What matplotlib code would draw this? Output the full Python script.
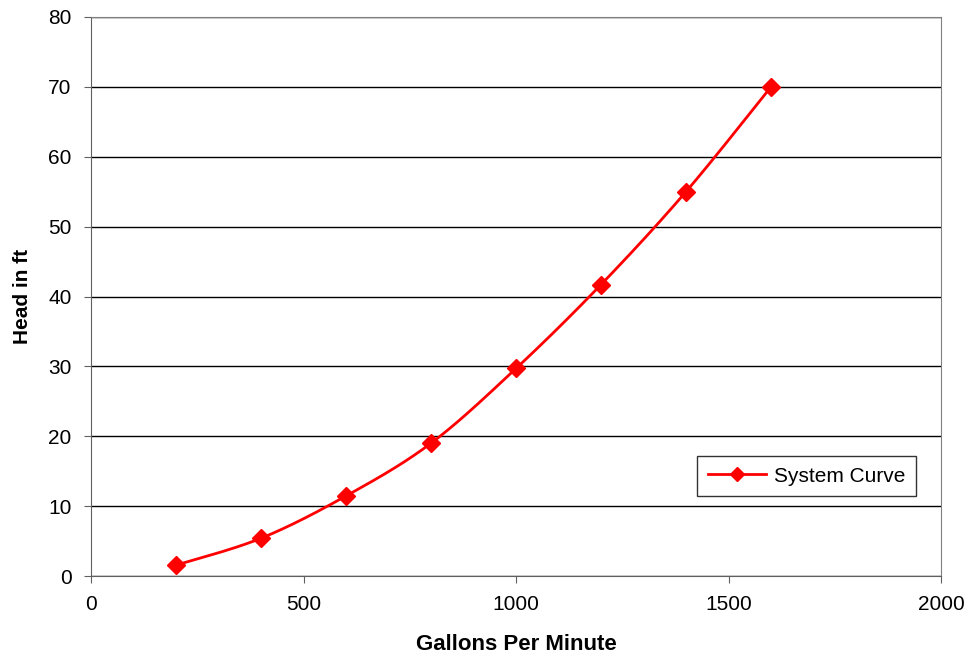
import numpy as np
import matplotlib
matplotlib.use("Agg")
import matplotlib.pyplot as plt
from matplotlib.lines import Line2D

gpm = [200, 400, 600, 800, 1000, 1200, 1400, 1600]
head = [1.55, 5.4, 11.45, 19.0, 29.7, 41.7, 55.0, 70.0]
series_name = "System Curve"
x_label = "Gallons Per Minute"
y_label = "Head in ft"

plt.rcParams['font.family'] = ['Liberation Sans', 'DejaVu Sans']

def smooth(xs, ys, n=30):
    # Excel-like smoothed line: cubic Bezier with control points from neighbours
    xs = np.asarray(xs, float); ys = np.asarray(ys, float)
    px = np.concatenate([[xs[0]], xs, [xs[-1]]])
    py = np.concatenate([[ys[0]], ys, [ys[-1]]])
    ox, oy = [], []
    t = np.linspace(0, 1, n)
    for i in range(1, len(px) - 2):
        p0 = np.array([px[i], py[i]]); p3 = np.array([px[i+1], py[i+1]])
        p1 = p0 + (np.array([px[i+1], py[i+1]]) - np.array([px[i-1], py[i-1]])) / 6
        p2 = p3 - (np.array([px[i+2], py[i+2]]) - np.array([px[i], py[i]])) / 6
        b = ((1-t)**3)[:, None]*p0 + (3*(1-t)**2*t)[:, None]*p1 + (3*(1-t)*t**2)[:, None]*p2 + (t**3)[:, None]*p3
        ox.extend(b[:, 0]); oy.extend(b[:, 1])
    return ox, oy

fig = plt.figure(figsize=(9.68, 6.58), dpi=100)
ax = fig.add_axes([91/968, 1 - 576/658, (941-91)/968, (576-17)/658])

sx, sy = smooth(gpm, head)
ax.plot(sx, sy, color='#FF0000', lw=2, zorder=3)
ax.plot(gpm, head, linestyle='none', marker='D', color='#FF0000', markersize=9, zorder=4)

ax.set_xlim(0, 2000)
ax.set_ylim(0, 80)
ax.set_xticks(range(0, 2001, 500))
ax.set_yticks(range(0, 81, 10))
ax.yaxis.grid(True, color='black', lw=1)
ax.set_axisbelow(True)
for s in ['top', 'right']:
    ax.spines[s].set_color('#808080')
for s in ['left', 'bottom']:
    ax.spines[s].set_color('#606060')
ax.tick_params(axis='both', labelsize=15, color='#606060', length=5, direction='out')
ax.tick_params(axis='y', pad=9)
ax.tick_params(axis='x', pad=9)
ax.set_xlabel(x_label, fontsize=16, fontweight='bold', labelpad=14)
ax.set_ylabel(y_label, fontsize=15, fontweight='bold', labelpad=12)

handle = Line2D([], [], color='#FF0000', lw=2, marker='D', markersize=7)
leg = ax.legend([handle], [series_name], loc='lower right',
                bbox_to_anchor=((916 - 91) / 850, (576 - 496) / 559),
                borderaxespad=0, fontsize=15, frameon=True, fancybox=False,
                edgecolor='black', borderpad=0.5, handlelength=2.8, handletextpad=0.4)
leg.get_frame().set_linewidth(1)

fig.savefig('out.png', dpi=100)
